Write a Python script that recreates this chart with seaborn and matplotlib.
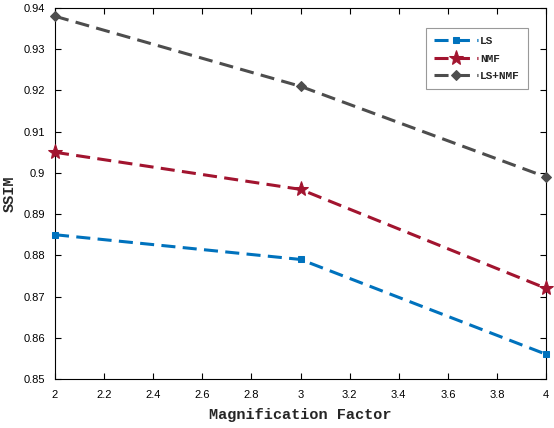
import matplotlib
matplotlib.use("Agg")
import matplotlib.pyplot as plt
import seaborn as sns
import pandas as pd

factors = [2, 3, 4]
ls_vals = [0.885, 0.879, 0.856]
nmf_vals = [0.905, 0.896, 0.872]
lsnmf_vals = [0.938, 0.921, 0.899]
series_names = ["LS", "NMF", "LS+NMF"]
colors = ["#0072BD", "#A2142F", "#4D4D4D"]
markers = ["s", "*", "D"]
msizes = [5, 11, 5.5]

sns.set_style("ticks")
plt.rcParams["font.family"] = ["Liberation Sans", "DejaVu Sans"]

fig = plt.figure(figsize=(5.54, 4.28), dpi=100)
ax = fig.add_axes([0.0993, 0.1145, 0.8863, 0.8668])

df = pd.DataFrame({"x": factors * 3,
                   "y": ls_vals + nmf_vals + lsnmf_vals,
                   "s": [n for n in series_names for _ in factors]})

for name, c, m, ms in zip(series_names, colors, markers, msizes):
    sub = df[df.s == name]
    sns.lineplot(data=sub, x="x", y="y", ax=ax, color=c, marker=m, markersize=ms,
                 linewidth=2.2, linestyle=(0, (4.6, 2.4)), markeredgecolor=c,
                 label=name, legend=False, clip_on=False, zorder=3)

ax.set_xlim(2, 4)
ax.set_ylim(0.85, 0.94)
ax.set_xticks([2, 2.2, 2.4, 2.6, 2.8, 3, 3.2, 3.4, 3.6, 3.8, 4])
ax.set_xticklabels(["2", "2.2", "2.4", "2.6", "2.8", "3", "3.2", "3.4", "3.6", "3.8", "4"])
yt = [0.85, 0.86, 0.87, 0.88, 0.89, 0.9, 0.91, 0.92, 0.93, 0.94]
ax.set_yticks(yt)
ax.set_yticklabels(["0.85", "0.86", "0.87", "0.88", "0.89", "0.9", "0.91", "0.92", "0.93", "0.94"])
ax.tick_params(direction="in", length=4, width=0.8, labelsize=8, top=True, right=True, colors="black")
ax.tick_params(axis="x", pad=8)
ax.tick_params(axis="y", pad=7)
for sp in ax.spines.values():
    sp.set_visible(True)
    sp.set_linewidth(0.8)
    sp.set_color("black")

lab_font = dict(family="Liberation Mono", weight="bold", size=11)
ax.set_xlabel("Magnification Factor", fontdict=lab_font, labelpad=6)
ax.set_ylabel("SSIM", fontdict=lab_font)
ax.yaxis.set_label_coords(-0.077, 0.5)

leg = ax.legend(loc="upper right", bbox_to_anchor=(0.963, 0.946), borderaxespad=0,
                prop=dict(family="Liberation Mono", weight="bold", size=8),
                fancybox=False, edgecolor="#999999", framealpha=1,
                handlelength=4, borderpad=0.7, labelspacing=0.7, handletextpad=0.2)
leg.get_frame().set_linewidth(0.8)

fig.savefig("out.png", dpi=100)
